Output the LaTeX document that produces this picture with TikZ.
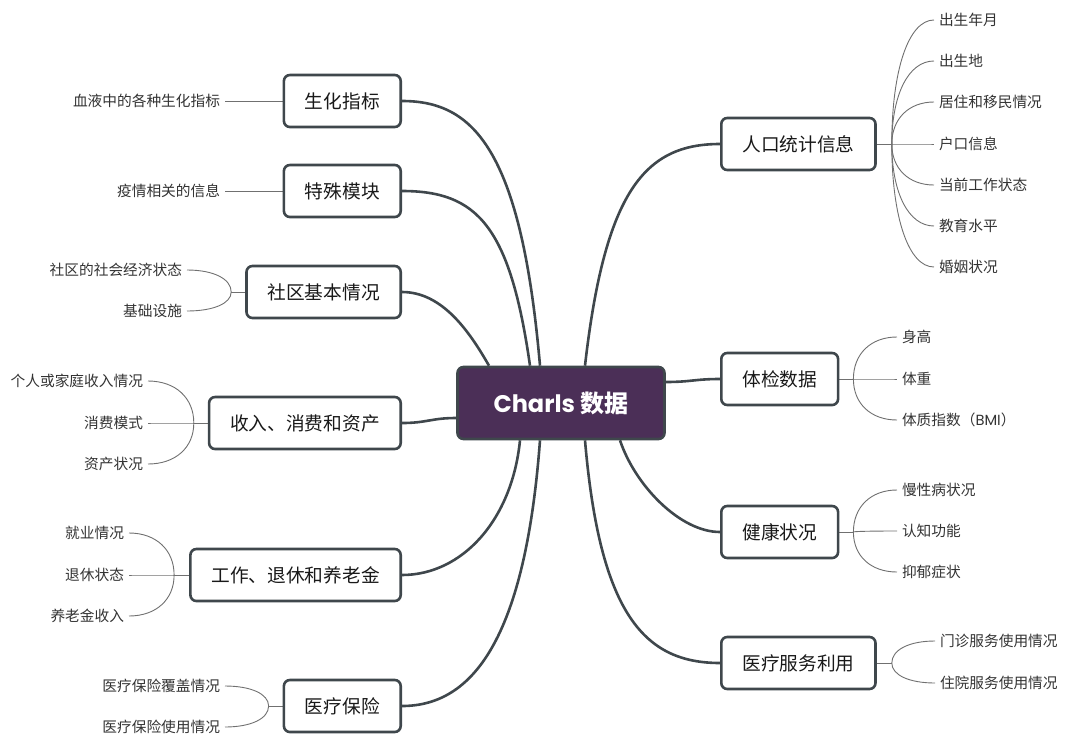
\documentclass[tikz,border=0pt]{standalone}
\usepackage{fontspec}
\setmainfont{Noto Sans CJK SC}
\newfontfamily\geo{Poppins}
\usetikzlibrary{calc, positioning, backgrounds}
\definecolor{edgegray}{HTML}{3F474C}
\definecolor{plum}{HTML}{4B2F57}
\definecolor{twiggray}{HTML}{707070}

\begin{document}
\begin{tikzpicture}[x=1pt, y=-1pt,
      root/.style = {draw=edgegray, line width=2.6pt, fill=plum, rounded corners=6pt,
                     text=white, font=\fontsize{24}{28}\selectfont\bfseries,
                     minimum width=207pt, minimum height=72pt},
      topic/.style = {draw=edgegray, line width=2.6pt, fill=white, rounded corners=6pt,
                      text=black!90, font=\fontsize{18.7}{22}\selectfont,
                      inner xsep=21pt, minimum height=52pt},
      leaf/.style = {text=black!80, font=\fontsize{14.7}{17}\selectfont,
                     inner sep=2pt, outer sep=3pt},
      trunk/.style = {draw=edgegray, line width=2.6pt},
      twig/.style = {draw=twiggray, line width=0.9pt,
                     to path={.. controls ($(\tikztostart)!0.6!(\tikztostart |- \tikztotarget)$)
                              and ($(\tikztostart |- \tikztotarget)!0.4!(\tikztotarget)$) .. (\tikztotarget)}} ]

   \useasboundingbox (0,0) rectangle (1080,740);

   \node[root] (root) at (561,403) {{\geo Charls} 数据};

   % left side
   \node[topic, anchor=east] (bio)  at (402,101) {生化指标};
   \node[topic, anchor=east] (spec) at (402,191) {特殊模块};
   \node[topic, anchor=east] (comm) at (402,292) {社区基本情况};
   \node[topic, anchor=east] (inc)  at (402,423) {收入、消费和资产};
   \node[topic, anchor=east] (work) at (402,575) {工作、退休和养老金};
   \node[topic, anchor=east] (ins)  at (402,706) {医疗保险};

   % right side
   \node[topic, anchor=west] (demo)   at (720,144) {人口统计信息};
   \node[topic, anchor=west] (phys)   at (720,379) {体检数据};
   \node[topic, anchor=west] (health) at (720,532) {健康状况};
   \node[topic, anchor=west] (med)    at (720,663) {医疗服务利用};

   \coordinate (jcomm)   at ([xshift=-14pt]comm.west);
   \coordinate (jinc)    at ([xshift=-14pt]inc.west);
   \coordinate (jwork)   at ([xshift=-15pt]work.west);
   \coordinate (jins)    at ([xshift=-14pt]ins.west);
   \coordinate (jdemo)   at ([xshift=15pt]demo.east);
   \coordinate (jphys)   at ([xshift=14pt]phys.east);
   \coordinate (jhealth) at ([xshift=14pt]health.east);
   \coordinate (jmed)    at ([xshift=15pt]med.east);

   % leaves
   \node[leaf, anchor=east] (bio1)  at (225,101) {血液中的各种生化指标};
   \node[leaf, anchor=east] (spec1) at (225,191) {疫情相关的信息};
   \node[leaf, anchor=east] (comm1) at (187,270) {社区的社会经济状态};
   \node[leaf, anchor=east] (comm2) at (187,311) {基础设施};
   \node[leaf, anchor=east] (inc1)  at (148,381) {个人或家庭收入情况};
   \node[leaf, anchor=east] (inc2)  at (148,423) {消费模式};
   \node[leaf, anchor=east] (inc3)  at (148,464) {资产状况};
   \node[leaf, anchor=east] (work1) at (129,533) {就业情况};
   \node[leaf, anchor=east] (work2) at (129,575) {退休状态};
   \node[leaf, anchor=east] (work3) at (129,616) {养老金收入};
   \node[leaf, anchor=east] (ins1)  at (225,686) {医疗保险覆盖情况};
   \node[leaf, anchor=east] (ins2)  at (225,727) {医疗保险使用情况};

   \node[leaf, anchor=west] (demo1) at (934,20)  {出生年月};
   \node[leaf, anchor=west] (demo2) at (934,61)  {出生地};
   \node[leaf, anchor=west] (demo3) at (934,102) {居住和移民情况};
   \node[leaf, anchor=west] (demo4) at (934,144) {户口信息};
   \node[leaf, anchor=west] (demo5) at (934,185) {当前工作状态};
   \node[leaf, anchor=west] (demo6) at (934,226) {教育水平};
   \node[leaf, anchor=west] (demo7) at (934,267) {婚姻状况};
   \node[leaf, anchor=west] (phys1) at (897,337) {身高};
   \node[leaf, anchor=west] (phys2) at (897,379) {体重};
   \node[leaf, anchor=west] (phys3) at (897,420) {体质指数（{\geo BMI}）};
   \node[leaf, anchor=west] (health1) at (897,490) {慢性病状况};
   \node[leaf, anchor=west] (health2) at (897,531) {认知功能};
   \node[leaf, anchor=west] (health3) at (897,572) {抑郁症状};
   \node[leaf, anchor=west] (med1) at (935,641) {门诊服务使用情况};
   \node[leaf, anchor=west] (med2) at (935,683) {住院服务使用情况};

   \begin{scope}[on background layer]
   % branches out of the root
   \draw[trunk] ([xshift=-21pt]root.north) .. controls +(-19,-219) and +(70,0) .. (bio.east);
   \draw[trunk] ([xshift=-31pt]root.north) .. controls +(-20,-140) and +(75,0) .. (spec.east);
   \draw[trunk] ([xshift=-72pt]root.north) .. controls +(-20,-35) and +(40,0) .. (comm.east);
   \draw[trunk] ([yshift=-15pt]root.west) .. controls +(-25,0) and +(25,0) .. (inc.east);
   \draw[trunk] ([xshift=-41pt]root.south) .. controls +(-8,80) and +(60,0) .. (work.east);
   \draw[trunk] ([xshift=-21pt]root.south) .. controls +(-15,200) and +(70,0) .. (ins.east);
   \draw[trunk] ([xshift=24pt]root.north) .. controls +(20,-175) and +(-75,0) .. (demo.west);
   \draw[trunk] ([yshift=21pt]root.east) .. controls +(25,0) and +(-25,0) .. (phys.west);
   \draw[trunk] ([xshift=59pt]root.south) .. controls +(15,45) and +(-40,0) .. (health.west);
   \draw[trunk] ([xshift=24pt]root.south) .. controls +(15,175) and +(-75,0) .. (med.west);

   % twigs to the leaves
   \draw[twig] (bio1.east) -- (bio.west);
   \draw[twig] (spec1.east) -- (spec.west);
   \foreach \b/\k in {comm/2, inc/3, work/3, ins/2} {
      \draw[twig] (\b.west) -- (j\b);
      \foreach \i in {1,...,\k}
         \draw[twig] (j\b) to (\b\i.east);
   }
   \foreach \b/\k in {demo/7, phys/3, health/3, med/2} {
      \draw[twig] (\b.east) -- (j\b);
      \foreach \i in {1,...,\k}
         \draw[twig] (j\b) to (\b\i.west);
   }
   \end{scope}
\end{tikzpicture}
\end{document}
